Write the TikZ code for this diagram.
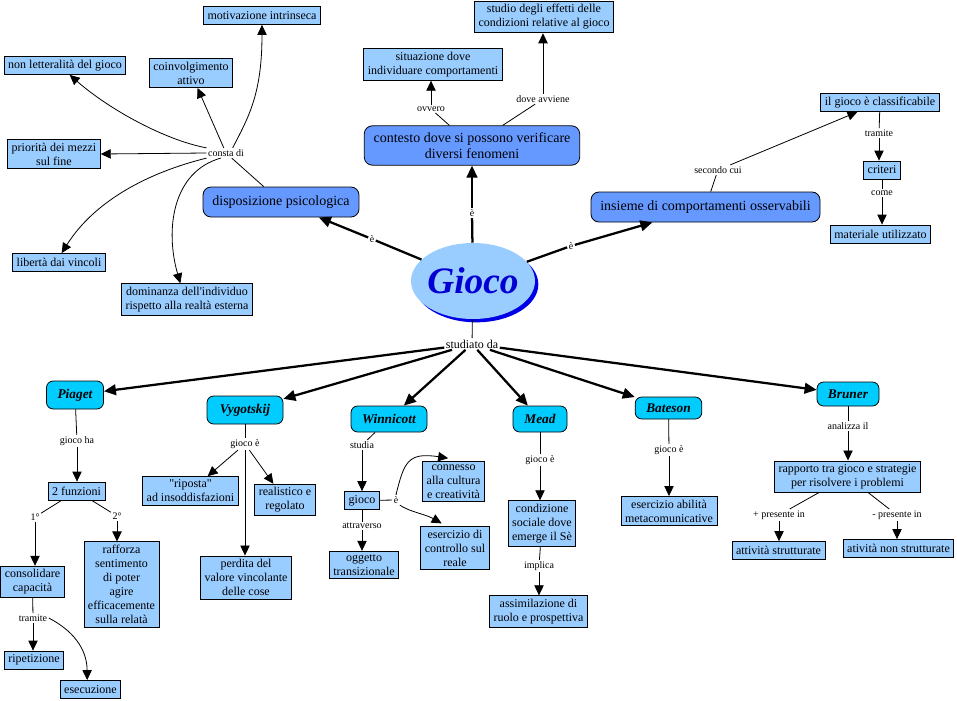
\documentclass[tikz,border=0pt]{standalone}
\usepackage{fontspec}
\setmainfont{Liberation Serif}
\usetikzlibrary{arrows.meta,shapes.geometric,shadows}
\definecolor{lbox}{RGB}{153,204,255}
\definecolor{midblue}{RGB}{102,153,255}
\definecolor{scicyan}{RGB}{0,204,255}
\definecolor{shadowblue}{RGB}{0,0,230}
\definecolor{giocoblue}{RGB}{0,0,210}
\tikzset{
 lb/.style={draw, fill=lbox, font=\fontsize{9}{10.5}\selectfont, align=center, inner xsep=3pt, inner ysep=2.5pt, minimum height=13.5pt, line width=0.6pt},
 mid/.style={draw, fill=midblue, rounded corners=6pt, font=\fontsize{10.5}{12}\selectfont, align=center, inner xsep=7pt, inner ysep=5pt, minimum height=22.5pt, line width=0.6pt},
 sci/.style={draw, fill=scicyan, rounded corners=5pt, font=\fontsize{10}{12}\selectfont\bfseries\itshape, inner sep=1pt, line width=0.6pt},
 lab/.style={fill=white, font=\fontsize{7.5}{9}\selectfont, inner sep=1pt},
 ln/.style={line width=0.6pt},
 arr/.style={line width=0.6pt, -{Triangle[length=7.5pt,width=7pt]}},
 tk/.style={line width=1.7pt},
 tkarr/.style={line width=1.7pt, -{Triangle[length=9pt,width=8pt]}},
}
\begin{document}
\begin{tikzpicture}[x=0.75pt,y=-0.75pt]
\useasboundingbox (0,0) rectangle (957,700);

% ---- central node
\node[ellipse, fill=lbox, minimum width=93pt, minimum height=57pt, inner sep=0pt,
      drop shadow={shadow xshift=2.5pt, shadow yshift=-2.5pt, fill=shadowblue, opacity=1}]
      (gioco) at (473,281) {\makebox[0pt]{\color{giocoblue}\fontsize{28}{30}\selectfont\bfseries\itshape Gioco}};

% ---- top-left cluster
\node[lb] (motiv) at (262,15.5) {motivazione intrinseca};
\node[lb] (nonlet) at (65,65.5) {non letteralità del gioco};
\node[lb] (coinv) at (191,73) {coinvolgimento\\attivo};
\node[lb] (prior) at (54,154) {priorità dei mezzi\\sul fine};
\node[lab] (consta) at (226,153) {consta di};
\node[mid] (disp) at (281,202) {disposizione psicologica};
\node[lb] (liberta) at (59,262.5) {libertà dai vincoli};
\node[lb] (domin) at (187,299.5) {dominanza dell\textquotesingle individuo\\rispetto alla realtà esterna};

% ---- top centre
\node[lb] (studio) at (544,17) {studio degli effetti delle\\condizioni relative al gioco};
\node[lb] (situaz) at (433,64.5) {situazione dove\\individuare comportamenti};
\node[mid] (contesto) at (472,145.5) {contesto dove si possono verificare\\diversi fenomeni};
\node[lab] (ovvero) at (431,109) {ovvero};
\node[lab] (doveavv) at (543,99) {dove avviene};

% ---- top right
\node[mid] (insieme) at (705.5,207) {insieme di comportamenti osservabili};
\node[lb] (classif) at (880,102.5) {il gioco è classificabile};
\node[lb] (criteri) at (882,170) {criteri};
\node[lb] (materiale) at (880.5,234) {materiale utilizzato};
\node[lab] (secondo) at (718,170) {secondo cui};
\node[lab] (tramiteA) at (879,133) {tramite};
\node[lab] (come) at (882,193) {come};

% ---- labels on the Gioco edges
\node[lab] (e1) at (372,239) {è};
\node[lab] (e2) at (472,213) {è};
\node[lab] (e3) at (571,246) {è};
\node[lab, font=\fontsize{9}{10}\selectfont] (studiato) at (472,344) {studiato da};

% ---- scientists
\node[sci, minimum width=42.75pt, minimum height=21pt] (piaget) at (75,395) {Piaget};
\node[sci, minimum width=57pt, minimum height=21pt] (vygot) at (245,410) {Vygotskij};
\node[sci, minimum width=57pt, minimum height=19.5pt] (winni) at (389,419) {Winnicott};
\node[sci, minimum width=40.5pt, minimum height=19.5pt] (mead) at (540,419) {Mead};
\node[sci, minimum width=50pt, minimum height=16.5pt] (bateson) at (668.5,408) {Bateson};
\node[sci, minimum width=46.5pt, minimum height=18pt] (bruner) at (848,394) {Bruner};

% ---- Piaget subtree
\node[lab] (giocoha) at (77,441) {gioco ha};
\node[lb] (funz) at (76.5,491) {2 funzioni};
\node[lab] (primo) at (35,517) {1°};
\node[lab] (secondoB) at (117,516) {2°};
\node[lb] (consol) at (32.5,582) {consolidare\\capacità};
\node[lb] (rafforza) at (121.5,584.5) {rafforza\\sentimento\\di poter\\agire\\efficacemente\\sulla relatà};
\node[lab] (tramiteB) at (33,618) {tramite};
\node[lb] (ripet) at (34,660) {ripetizione};
\node[lb] (esec) at (90.5,689.5) {esecuzione};

% ---- Vygotskij subtree
\node[lab] (vgioco) at (245,444) {gioco è};
\node[lb] (riposta) at (190.5,491) {\textquotedbl riposta\textquotedbl\\ad insoddisfazioni};
\node[lb] (realist) at (285,500) {realistico e\\regolato};
\node[lb] (perdita) at (246,577.5) {perdita del\\valore vincolante\\delle cose};

% ---- Winnicott subtree
\node[lab] (studia) at (362,445) {studia};
\node[lb] (wgioco) at (362,500.5) {gioco};
\node[lab] (attrav) at (362,526) {attraverso};
\node[lb] (oggetto) at (364,565) {oggetto\\transizionale};
\node[lab] (we) at (396,500) {è};
\node[lb] (connesso) at (453.5,481.5) {connesso\\alla cultura\\e creatività};
\node[lb] (eserc) at (455,548) {esercizio di\\controllo sul\\reale};

% ---- Mead subtree
\node[lab] (mgioco) at (540,460) {gioco è};
\node[lb] (condiz) at (542,523.5) {condizione\\sociale dove\\emerge il Sè};
\node[lab] (implica) at (539,566) {implica};
\node[lb] (assim) at (538.5,611.5) {assimilazione di\\ruolo e prospettiva};

% ---- Bateson subtree
\node[lab] (bgioco) at (669,450) {gioco è};
\node[lb] (metac) at (669,511) {esercizio abilità\\metacomunicative};

% ---- Bruner subtree
\node[lab] (analizza) at (848,426) {analizza il};
\node[lb] (rapporto) at (847.5,476.5) {rapporto tra gioco e strategie\\per risolvere i problemi};
\node[lab] (piu) at (779,515) {+ presente in};
\node[lab] (meno) at (897,515) {- presente in};
\node[lb] (attstr) at (778.5,550.5) {attività strutturate};
\node[lb] (atnon) at (898.5,548.5) {atività non strutturate};

% ================= connectors
% Gioco edges
\draw[tk] (gioco) -- (e1);
\draw[tkarr] (e1) -- (disp);
\draw[tk] (gioco) -- (e2);
\draw[tkarr] (e2) -- (contesto);
\draw[tk] (gioco) -- (e3);
\draw[tkarr] (e3) -- (insieme);
\draw[ln] (gioco) -- (studiato);
\draw[tkarr] (studiato) -- (piaget);
\draw[tkarr] (studiato) -- (vygot);
\draw[tkarr] (studiato) -- (winni);
\draw[tkarr] (studiato) -- (mead);
\draw[tkarr] (studiato) -- (bateson);
\draw[tkarr] (studiato) -- (bruner);

% top-left
\draw[ln] (disp) -- (consta);
\draw[arr] ([xshift=5pt]consta.north) .. controls (248,118) and (262,95) .. (motiv.south);
\draw[arr] (consta) -- (coinv);
\draw[arr] (consta.north west) .. controls (165,140) and (110,110) .. ([xshift=3.5pt]nonlet.south);
\draw[arr] (consta.west) -- (prior.east);
\draw[arr] (consta.south west) .. controls (150,172) and (95,200) .. ([xshift=2pt]liberta.north);
\draw[arr] ([xshift=-4pt]consta.south) .. controls (172,172) and (165,230) .. ([xshift=-5pt]domin.north);

% top centre
\draw[ln] (contesto) -- (ovvero);
\draw[arr] (ovvero) -- (ovvero |- situaz.south);
\draw[ln] (contesto) -- (doveavv);
\draw[arr] (doveavv) -- (doveavv |- studio.south);

% top right
\draw[ln] (insieme) -- (secondo);
\draw[arr] (secondo) -- (classif);
\draw[ln] (classif) -- (tramiteA);
\draw[arr] (tramiteA) -- (tramiteA |- criteri.north);
\draw[ln] (criteri) -- (come);
\draw[arr] (come) -- (come |- materiale.north);

% Piaget
\draw[ln] (piaget) -- (giocoha);
\draw[arr] (giocoha) -- (giocoha |- funz.north);
\draw[ln] (funz) -- (primo);
\draw[arr] (primo) -- (primo |- consol.north);
\draw[ln] (funz) -- (secondoB);
\draw[arr] (secondoB) -- (secondoB |- rafforza.north);
\draw[ln] (consol) -- (tramiteB);
\draw[arr] (tramiteB) -- (tramiteB |- ripet.north);
\draw[arr] (tramiteB.east) .. controls (72,630) and (87,648) .. ([xshift=-2.5pt]esec.north);

% Vygotskij
\draw[ln] (vygot) -- (vgioco);
\draw[arr] (vgioco) -- (riposta);
\draw[arr] (vgioco) -- (realist);
\draw[arr] (vgioco) -- (vgioco |- perdita.north);

% Winnicott
\draw[ln] (winni) -- (studia);
\draw[arr] (studia) -- (studia |- wgioco.north);
\draw[ln] (wgioco) -- (attrav);
\draw[arr] (attrav) -- (attrav |- oggetto.north);
\draw[ln] (wgioco) -- (we);
\draw[arr] (we.north) .. controls (404,462) and (408,452) .. ([xshift=-4pt,yshift=2pt]connesso.north);
\draw[arr] (we.south east) .. controls (410,512) and (425,514) .. ([xshift=-10pt,yshift=2pt]eserc.north);

% Mead
\draw[ln] (mead) -- (mgioco);
\draw[arr] (mgioco) -- (mgioco |- condiz.north);
\draw[ln] (condiz) -- (implica);
\draw[arr] (implica) -- (implica |- assim.north);

% Bateson
\draw[ln] (bateson) -- (bgioco);
\draw[arr] (bgioco) -- (metac);

% Bruner
\draw[ln] (bruner) -- (analizza);
\draw[arr] (analizza) -- (analizza |- rapporto.north);
\draw[ln] (rapporto) -- (piu);
\draw[arr] (piu) -- (piu |- attstr.north);
\draw[ln] (rapporto) -- (meno);
\draw[arr] (meno) -- (meno |- atnon.north);
\end{tikzpicture}
\end{document}
